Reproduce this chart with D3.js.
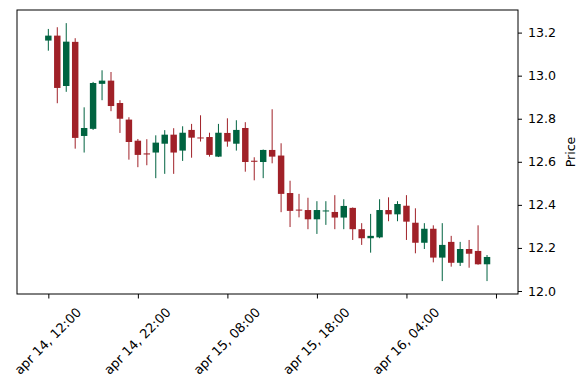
<!doctype html>
<html lang="en">
<head>
  <meta charset="utf-8">
  <title>Candlestick - Price</title>
  <script type="text/javascript" src="https://cdnjs.cloudflare.com/ajax/libs/d3/7.8.5/d3.min.js"></script>
  <style>
    body { margin: 0; background: #fff; }
    text { font-family: "DejaVu Sans", sans-serif; fill: #000; }
  </style>
</head>
<body>
	<svg width="587" height="390" id="svg"></svg>
</body>

<script type="text/javascript">

	/* hourly candles, apr 14 12:00 -> apr 16 13:00 */
	var opens = [13.163, 13.186, 12.952, 13.157, 12.720, 12.753, 12.962, 12.977, 12.873, 12.796,
		12.698, 12.639, 12.643, 12.684, 12.726, 12.652, 12.748, 12.713, 12.715, 12.624,
		12.734, 12.684, 12.757, 12.605, 12.599, 12.655, 12.629, 12.455, 12.378, 12.376,
		12.333, 12.370, 12.367, 12.341, 12.386, 12.287, 12.245, 12.249, 12.376, 12.356,
		12.396, 12.317, 12.224, 12.289, 12.155, 12.228, 12.131, 12.195, 12.186, 12.124];
	var highs = [13.217, 13.225, 13.244, 13.174, 12.853, 12.971, 13.025, 13.017, 12.886, 12.807,
		12.706, 12.705, 12.723, 12.747, 12.756, 12.765, 12.776, 12.816, 12.735, 12.776,
		12.802, 12.793, 12.784, 12.621, 12.657, 12.844, 12.686, 12.512, 12.451, 12.433,
		12.417, 12.417, 12.445, 12.426, 12.388, 12.315, 12.358, 12.426, 12.435, 12.417,
		12.445, 12.384, 12.315, 12.305, 12.315, 12.256, 12.228, 12.237, 12.305, 12.167];
	var lows = [13.116, 12.872, 12.925, 12.661, 12.643, 12.748, 12.886, 12.835, 12.734, 12.610,
		12.575, 12.584, 12.524, 12.544, 12.544, 12.604, 12.619, 12.694, 12.624, 12.622,
		12.670, 12.652, 12.554, 12.514, 12.524, 12.593, 12.366, 12.297, 12.342, 12.287,
		12.265, 12.307, 12.287, 12.287, 12.237, 12.214, 12.178, 12.245, 12.324, 12.324,
		12.237, 12.175, 12.195, 12.133, 12.046, 12.113, 12.116, 12.108, 12.122, 12.046];
	var closes = [13.186, 12.943, 13.158, 12.711, 12.757, 12.966, 12.977, 12.859, 12.800, 12.692,
		12.632, 12.634, 12.689, 12.726, 12.643, 12.735, 12.712, 12.710, 12.632, 12.735,
		12.694, 12.748, 12.599, 12.600, 12.655, 12.624, 12.451, 12.372, 12.374, 12.333,
		12.376, 12.374, 12.341, 12.395, 12.287, 12.245, 12.256, 12.376, 12.356, 12.404,
		12.322, 12.224, 12.289, 12.155, 12.214, 12.131, 12.195, 12.173, 12.124, 12.158];

	var tickIndex = [0, 10, 20, 30, 40, 50];
	var tickLabels = ["apr 14, 12:00", "apr 14, 22:00", "apr 15, 08:00", "apr 15, 18:00", "apr 16, 04:00", ""];
	var priceTicks = [12.0, 12.2, 12.4, 12.6, 12.8, 13.0, 13.2];

	var upColor = "#006340",
		downColor = "#a02128";

	var plotLeft = 17, plotRight = 518, plotTop = 10, plotBottom = 294;

	var data = opens.map(function(o, i) {
		return {i: i, o: o, h: highs[i], l: lows[i], c: closes[i]};
	});

	var x = d3.scaleLinear()
		.domain([-3.5, 52.46])
		.range([plotLeft, plotRight]);

	var y = d3.scaleLinear()
		.domain([11.986, 13.305])
		.range([plotBottom, plotTop]);

	var bw = (x(1) - x(0)) * 0.72;

	var svg = d3.select('#svg');

	var candles = svg.append('g')
		.selectAll('g')
		.data(data)
		.enter().append('g')
		.attr('fill', function(d) { return d.c >= d.o ? upColor : downColor; })
		.attr('stroke', function(d) { return d.c >= d.o ? upColor : downColor; });

	candles.append('line')
		.attr('x1', function(d) { return x(d.i); })
		.attr('x2', function(d) { return x(d.i); })
		.attr('y1', function(d) { return y(d.h); })
		.attr('y2', function(d) { return y(d.l); })
		.attr('stroke-width', 1);

	candles.append('rect')
		.attr('x', function(d) { return x(d.i) - bw / 2; })
		.attr('width', bw)
		.attr('y', function(d) { return y(Math.max(d.o, d.c)); })
		.attr('height', function(d) { return Math.max(1, Math.abs(y(d.o) - y(d.c))); })
		.attr('stroke', 'none');

	/* frame */
	svg.append('rect')
		.attr('x', plotLeft)
		.attr('y', plotTop)
		.attr('width', plotRight - plotLeft)
		.attr('height', plotBottom - plotTop)
		.attr('fill', 'none')
		.attr('stroke', '#000')
		.attr('stroke-width', 1);

	// x axis, labels rotated 45 and centred under the tick
	var xAxis = svg.append('g')
		.attr('transform', 'translate(0,' + plotBottom + ')')
		.call(d3.axisBottom(x).tickValues(tickIndex).tickSize(4.5).tickFormat(''));
	xAxis.select('.domain').remove();

	svg.append('g')
		.selectAll('text')
		.data(tickIndex)
		.enter().append('text')
		.attr('transform', function(d) { return 'translate(' + (x(d) - 0.5) + ',341) rotate(-45)'; })
		.attr('text-anchor', 'middle')
		.attr('dominant-baseline', 'central')
		.style('font-size', '13px')
		.text(function(d, i) { return tickLabels[i]; });

	// price axis on the right
	var yAxis = svg.append('g')
		.attr('transform', 'translate(' + plotRight + ',0)')
		.call(d3.axisRight(y).tickValues(priceTicks).tickSize(4).tickPadding(6).tickFormat(d3.format('.1f')));
	yAxis.select('.domain').remove();
	yAxis.selectAll('text')
		.style('font-family', '"DejaVu Sans", sans-serif')
		.style('font-size', '12.6px');

	svg.append('text')
		.attr('transform', 'translate(575,' + ((plotTop + plotBottom) / 2) + ') rotate(-90)')
		.attr('text-anchor', 'middle')
		.style('font-size', '12.6px')
		.text('Price');

</script>
</html>
